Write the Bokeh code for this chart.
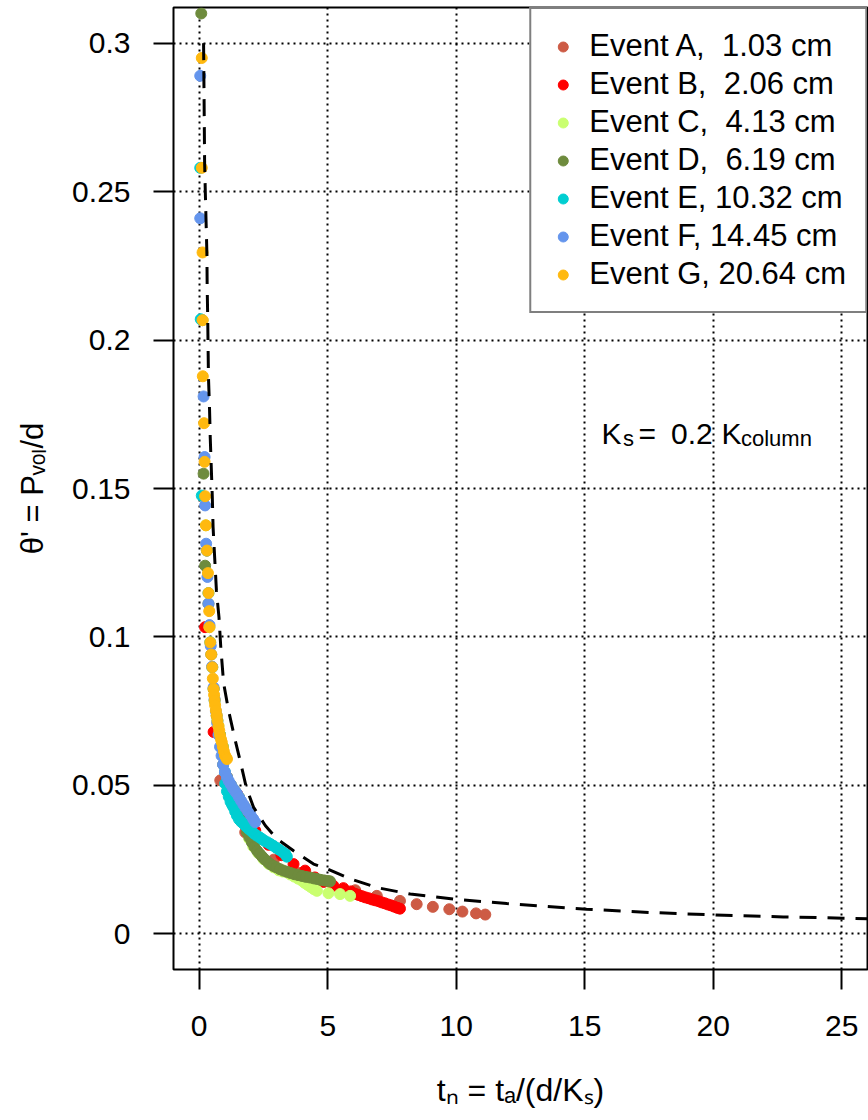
from bokeh.plotting import figure
from bokeh.models import FixedTicker, NumeralTickFormatter, Legend, LegendItem, Label, Range1d
from bokeh.embed import file_html
from bokeh.resources import INLINE

FONT = "Liberation Sans"

# ---------------- data ----------------
x_ticks = [0, 5, 10, 15, 20, 25]
y_ticks = [0, 0.05, 0.1, 0.15, 0.2, 0.25, 0.3]

x_title = "t\u2099 = t\u2090/(d/K\u209b)"
y_title = "\u03b8' = P\u1d65\u2092\u2097/d"

labels = ["Event A,  1.03 cm", "Event B,  2.06 cm", "Event C,  4.13 cm",
          "Event D,  6.19 cm", "Event E, 10.32 cm", "Event F, 14.45 cm",
          "Event G, 20.64 cm"]
colors = ["#CD5B45", "#FF0000", "#CAFF70", "#6E8B3D", "#00CED1", "#6495ED", "#FFB90F"]

a_x = [0.13, 0.30, 0.82, 1.79, 2.90, 3.90, 4.90, 6.07, 6.91, 7.81, 8.46, 9.09, 9.73,
       10.24, 10.77, 11.13]
a_y = [0.2067, 0.1291, 0.0517, 0.0342, 0.0250, 0.0205, 0.0178, 0.0147, 0.0128, 0.0111,
       0.0100, 0.0091, 0.0083, 0.0075, 0.0069, 0.0065]

b_x = [0.23, 0.56, 1.08, 1.47, 2.18, 2.70, 3.20, 3.67, 4.12, 4.50, 4.84, 5.22, 5.61,
       5.90, 6.07, 6.20, 6.33, 6.46, 6.59, 6.72, 6.85, 6.98, 7.10, 7.22, 7.34, 7.46,
       7.58, 7.70, 7.81]
b_y = [0.1033, 0.0680, 0.0528, 0.0472, 0.0348, 0.0300, 0.0265, 0.0235, 0.0213, 0.0190,
       0.0175, 0.0162, 0.0154, 0.0143, 0.0135, 0.0131, 0.0127, 0.0123, 0.0120, 0.0116,
       0.0113, 0.0110, 0.0106, 0.0103, 0.0099, 0.0096, 0.0092, 0.0088, 0.0085]

c_x = [0.13, 0.26, 0.40, 0.56, 0.75, 0.92, 1.08, 1.32, 1.55, 1.80, 1.95, 2.10, 2.30,
       2.50, 2.70, 2.90, 3.10, 3.25, 3.41, 3.55, 3.70, 3.85, 4.00, 4.10, 4.22, 4.34,
       4.46, 4.58, 5.03, 5.48, 5.87]
c_y = [0.2067, 0.1376, 0.1033, 0.0825, 0.0700, 0.0630, 0.0528, 0.0490, 0.0460, 0.0425,
       0.0320, 0.0295, 0.0272, 0.0252, 0.0236, 0.0224, 0.0214, 0.0210, 0.0207, 0.0200,
       0.0193, 0.0186, 0.0179, 0.0172, 0.0165, 0.0158, 0.0151, 0.0145, 0.0137, 0.0134,
       0.0128]

d_x = [0.08, 0.17, 0.23, 0.36, 0.47, 0.56, 0.68, 0.81, 0.93, 1.08, 1.23, 1.40, 1.55,
       1.65, 1.75, 1.86, 1.95, 2.05, 2.15, 2.25, 2.35, 2.45, 2.55, 2.66, 2.76, 2.88,
       3.00, 3.14, 3.28, 3.42, 3.56, 3.70, 3.85, 4.00, 4.15, 4.30, 4.45, 4.58, 4.72,
       4.86, 5.00, 5.09]
d_y = [0.310, 0.155, 0.124, 0.1112, 0.0941, 0.0825, 0.0735, 0.0670, 0.0570, 0.0528,
       0.0503, 0.0480, 0.0460, 0.0400, 0.0370, 0.0342, 0.0325, 0.0308, 0.0293, 0.0280,
       0.0270, 0.0260, 0.0251, 0.0243, 0.0235, 0.0229, 0.0224, 0.0218, 0.0213, 0.0209,
       0.0205, 0.0201, 0.0198, 0.0195, 0.0192, 0.0190, 0.0187, 0.0185, 0.0182, 0.0180,
       0.0178, 0.0177]

e_x = [0.04, 0.06, 0.10, 0.30, 0.36, 0.43, 0.51, 0.60, 0.71, 0.81, 0.92, 1.00, 1.01,
       1.08, 1.15, 1.22, 1.28, 1.33, 1.40, 1.47, 1.55, 1.63, 1.72, 1.82, 1.92, 2.03,
       2.13, 2.24, 2.35, 2.45, 2.55, 2.66, 2.76, 2.88, 3.00, 3.12, 3.25, 3.35, 3.41]
e_y = [0.258, 0.207, 0.1476, 0.1291, 0.1148, 0.0982, 0.0898, 0.0786, 0.0718, 0.0670,
       0.0630, 0.0545, 0.0506, 0.0480, 0.0462, 0.0445, 0.0435, 0.0427, 0.0412, 0.0398,
       0.0386, 0.0378, 0.0371, 0.0362, 0.0354, 0.0346, 0.0338, 0.0331, 0.0325, 0.0319,
       0.0313, 0.0308, 0.0303, 0.0297, 0.0290, 0.0283, 0.0275, 0.0269, 0.0260]

f_x = [0.04, 0.04, 0.17, 0.21, 0.23, 0.27, 0.32, 0.36, 0.40, 0.45, 0.50, 0.56, 0.60,
       0.65, 0.70, 0.75, 0.81, 0.87, 0.93, 1.00, 1.08, 1.15, 1.23, 1.32, 1.40, 1.47,
       1.55, 1.63, 1.72, 1.80, 1.90, 2.00, 2.10, 2.18]
f_y = [0.289, 0.241, 0.181, 0.1606, 0.1443, 0.1314, 0.1202, 0.1112, 0.104, 0.097,
       0.090, 0.083, 0.079, 0.075, 0.071, 0.067, 0.063, 0.060, 0.057, 0.0545, 0.0528,
       0.0515, 0.0503, 0.0490, 0.0480, 0.0472, 0.0460, 0.0448, 0.0436, 0.0425, 0.0412,
       0.0400, 0.0387, 0.0376]

g_x = [0.10, 0.10, 0.13, 0.13, 0.14, 0.19, 0.21, 0.23, 0.26, 0.30, 0.34, 0.36, 0.39,
       0.40, 0.43, 0.47, 0.51, 0.53, 0.56, 0.58, 0.60, 0.62, 0.65, 0.68, 0.71, 0.75,
       0.78, 0.81, 0.85, 0.88, 0.92, 0.96, 1.00, 1.04, 1.08]
g_y = [0.295, 0.258, 0.2295, 0.2067, 0.1878, 0.172, 0.159, 0.1474, 0.1376, 0.1291,
       0.1215, 0.1148, 0.1087, 0.1033, 0.0982, 0.0941, 0.0898, 0.0860, 0.0825, 0.0805,
       0.0786, 0.0770, 0.0752, 0.0735, 0.0718, 0.0700, 0.0685, 0.0670, 0.0655, 0.0645,
       0.0630, 0.0615, 0.0602, 0.0595, 0.0589]

curve_x = [0.17, 0.19, 0.21, 0.24, 0.27, 0.30, 0.31, 0.33, 0.36, 0.40, 0.43, 0.47, 0.51,
           0.54, 0.60, 0.67, 0.77, 0.84, 0.95, 1.14, 1.40, 1.62, 1.83, 2.11, 2.57, 3.02,
           3.67, 4.45, 4.97, 5.88, 6.91, 8.21, 9.90, 11.97, 15.07, 17.54, 20.0, 22.72,
           25.05, 26.0]
curve_y = [0.300, 0.281, 0.260, 0.249, 0.239, 0.229, 0.218, 0.208, 0.1876, 0.1775, 0.167,
           0.157, 0.147, 0.137, 0.127, 0.1156, 0.1066, 0.0965, 0.0844, 0.0753, 0.0652,
           0.0573, 0.0494, 0.0427, 0.0365, 0.0320, 0.0280, 0.0235, 0.0219, 0.0185, 0.0156,
           0.0134, 0.0117, 0.0102, 0.0083, 0.0072, 0.0064, 0.0057, 0.0053, 0.0051]

series_x = [a_x, b_x, c_x, d_x, e_x, f_x, g_x]
series_y = [a_y, b_y, c_y, d_y, e_y, f_y, g_y]

# ---------------- figure ----------------
X0, X1 = -1, 26
Y0, Y1 = -0.012, 0.312
p = figure(width=868, height=1120, x_range=Range1d(X0, X1), y_range=Range1d(Y0, Y1),
           output_backend="svg", toolbar_location=None,
           min_border_left=173, min_border_right=1, min_border_top=7,
           min_border_bottom=151)
p.outline_line_color = "black"
p.outline_line_width = 2
p.outline_line_alpha = 1
p.background_fill_color = "white"
p.border_fill_color = "white"

p.xaxis.ticker = FixedTicker(ticks=x_ticks)
p.yaxis.ticker = FixedTicker(ticks=y_ticks)
p.xaxis.formatter = NumeralTickFormatter(format="0")
p.yaxis.formatter = NumeralTickFormatter(format="0.[00]")
for ax in p.axis:
    ax.axis_line_color = None
    ax.major_tick_in = 0
    ax.major_tick_out = 20
    ax.major_tick_line_width = 2
    ax.major_tick_line_color = "black"
    ax.minor_tick_line_color = None
    ax.major_label_text_font = FONT
    ax.major_label_text_font_size = "30px"
    ax.major_label_text_color = "black"
    ax.axis_label_text_font = FONT
    ax.axis_label_text_font_style = "normal"
    ax.axis_label_text_color = "black"
p.xaxis.major_label_standoff = 26
p.yaxis.major_label_standoff = 23
p.xaxis.axis_label = x_title
p.yaxis.axis_label = y_title
p.xaxis.axis_label_text_font_size = "32px"
p.yaxis.axis_label_text_font_size = "31px"
p.xaxis.axis_label_standoff = 33
p.yaxis.axis_label_standoff = 19

for g in p.grid:
    g.grid_line_color = "black"
    g.grid_line_width = 2
    g.grid_line_dash = "2 4"

renderers = []
for xs, ys, c in zip(series_x, series_y, colors):
    r = p.scatter(xs, ys, size=11, marker="circle", fill_color=c, line_color=c)
    renderers.append(r)

p.line(curve_x, curve_y, line_color="black", line_width=3, line_dash="17 11")

legend = Legend(items=[LegendItem(label=l, renderers=[r]) for l, r in zip(labels, renderers)],
                location="top_right", margin=0, padding=19, spacing=2,
                label_standoff=14, glyph_width=25, glyph_height=25, label_height=36,
                label_text_font=FONT, label_text_font_size="31px",
                label_text_color="black", border_line_color="black",
                border_line_width=2, background_fill_color="white",
                background_fill_alpha=1)
p.add_layout(legend)

# --------------- K_s = 0.2 K_column (with subscripts) ---------------
FL, FB = 173, 969  # page position of the frame's bottom-left corner


def piece(text, px, py, size):
    p.add_layout(Label(x=X0, y=Y0, x_offset=px - FL, y_offset=FB - py, text=text,
                       text_font=FONT, text_font_size=f"{size}px", text_color="black",
                       text_align="left", text_baseline="alphabetic"))


piece("K", 601, 433, 30)
piece("s", 622.5, 438, 22)
piece("=", 638, 433, 30)
piece("0.2", 670.5, 433, 30)
piece("K", 721, 433, 30)
piece("column", 740.5, 438, 22)

open("out.html", "w").write(file_html(p, INLINE))
